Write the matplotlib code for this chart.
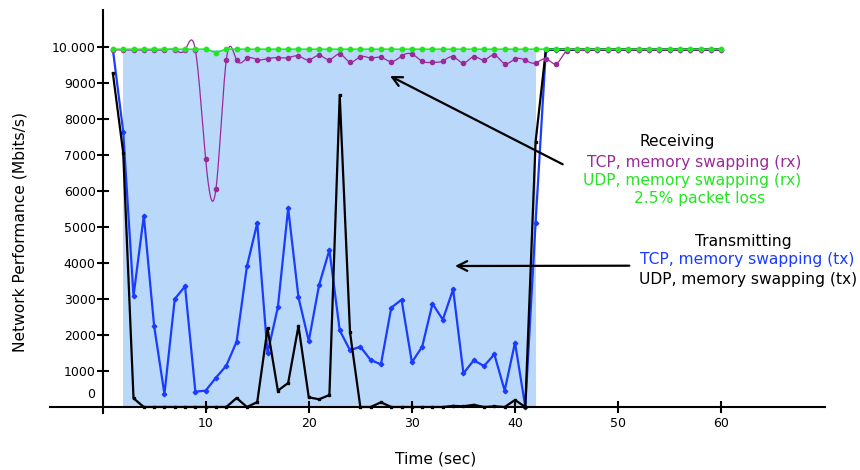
import numpy as np
import matplotlib
matplotlib.use("Agg")
import matplotlib.pyplot as plt

# ---------------- data (Mbits/s vs time in seconds) ----------------
time_s = list(range(1, 61))

tcp_tx = [9930, 7647, 3083, 5314, 2250, 361, 3000, 3352, 426, 454,
          815, 1148, 1815, 3907, 5110, 1491, 2769, 5519, 3046, 1833,
          3389, 4361, 2130, 1575, 1676, 1306, 1185, 2759, 2981, 1241,
          1676, 2870, 2426, 3269, 935, 1296, 1139, 1463, 454, 1787,
          10, 5120, 9930, 9930, 9930, 9930, 9930, 9930, 9930, 9930,
          9930, 9930, 9930, 9930, 9930, 9930, 9930, 9930, 9930, 9930]

udp_tx = [9269, 7064, 241, 0, 0, 0, 0, 0, 0, 0,
          0, 0, 250, 0, 135, 2185, 454, 667, 2250, 269,
          213, 333, 8667, 2074, 0, 0, 130, 0, 0, 0,
          0, 0, 0, 30, 20, 60, 0, 20, 0, 194,
          0, 7370, 9930, 9930, 9930, 9930, 9930, 9930, 9930, 9930,
          9930, 9930, 9930, 9930, 9930, 9930, 9930, 9930, 9930, 9930]

tcp_rx = [9920, 9920, 9920, 9920, 9920, 9920, 9920, 9920, 9920, 6880,
          6065, 9639, 9639, 9686, 9650, 9676, 9704, 9704, 9750, 9639,
          9769, 9648, 9806, 9583, 9731, 9694, 9713, 9593, 9750, 9806,
          9602, 9574, 9611, 9731, 9556, 9731, 9639, 9778, 9537, 9667,
          9630, 9556, 9676, 9537, 9900, 9920, 9920, 9920, 9920, 9920,
          9920, 9920, 9920, 9920, 9920, 9920, 9920, 9920, 9920, 9920]

udp_rx = [9940, 9940, 9940, 9940, 9940, 9940, 9940, 9940, 9940, 9940,
          9845, 9940, 9940, 9940, 9940, 9940, 9940, 9940, 9940, 9940,
          9940, 9940, 9940, 9940, 9940, 9940, 9940, 9940, 9940, 9940,
          9940, 9940, 9940, 9940, 9940, 9940, 9940, 9940, 9940, 9940,
          9940, 9940, 9940, 9940, 9940, 9940, 9940, 9940, 9940, 9940,
          9940, 9940, 9940, 9940, 9940, 9940, 9940, 9940, 9940, 9940]

swap_period = [2, 42]
swap_level = 9920

x_ticks = [10, 20, 30, 40, 50, 60]
y_ticks = [1000, 2000, 3000, 4000, 5000, 6000, 7000, 8000, 9000, 10000]
y_tick_labels = ["1000", "2000", "3000", "4000", "5000", "6000", "7000",
                 "8000", "9000", "10.000"]

# colours
C_BLUE = "#1a3cff"
C_PURPLE = "#9a2a98"
C_GREEN = "#22e622"
C_SPAN = "#b9d8fa"


def natural_cubic(x, y, num=24):
    x = np.asarray(x, float)
    y = np.asarray(y, float)
    n = len(x)
    h = np.diff(x)
    A = np.zeros((n, n))
    r = np.zeros(n)
    A[0, 0] = 1
    A[-1, -1] = 1
    for i in range(1, n - 1):
        A[i, i - 1] = h[i - 1]
        A[i, i] = 2 * (h[i - 1] + h[i])
        A[i, i + 1] = h[i]
        r[i] = 6 * ((y[i + 1] - y[i]) / h[i] - (y[i] - y[i - 1]) / h[i - 1])
    M = np.linalg.solve(A, r)
    xs, ys = [], []
    for i in range(n - 1):
        s = np.linspace(0, h[i], num, endpoint=False)
        a = (h[i] - s) / h[i]
        b = s / h[i]
        yy = a * y[i] + b * y[i + 1] + ((a ** 3 - a) * M[i] + (b ** 3 - b) * M[i + 1]) * h[i] ** 2 / 6
        xs.append(x[i] + s)
        ys.append(yy)
    xs.append([x[-1]])
    ys.append([y[-1]])
    return np.concatenate(xs), np.concatenate(ys)


W, H = 860, 470
fig = plt.figure(figsize=(W / 100, H / 100), dpi=100)
ax = fig.add_axes([50 / W, (H - 413) / H, 775 / W, 403 / H])
ax.set_xlim(-5.1, 70.07)
ax.set_ylim(-167, 11028)

# shaded memory-swapping period
ax.fill_between(swap_period, [0, 0], [swap_level, swap_level], color=C_SPAN,
                linewidth=0, zorder=1)

ax.plot(time_s, tcp_tx, color=C_BLUE, lw=1.6, marker="D", ms=2.3, zorder=3)
ax.plot(time_s, udp_tx, color="black", lw=1.6, marker="s", ms=1.8, zorder=4)

sx, sy = natural_cubic(time_s, tcp_rx)
ax.plot(sx, sy, color=C_PURPLE, lw=0.9, zorder=5)
ax.plot(time_s, tcp_rx, linestyle="none", marker="o", ms=3, color=C_PURPLE, zorder=5)

ax.plot(time_s, udp_rx, color=C_GREEN, lw=1.1, marker="o", ms=3.2, zorder=6)

# axes styling
for side in ["top", "right"]:
    ax.spines[side].set_visible(False)
ax.spines["left"].set_position(("data", 0))
ax.spines["bottom"].set_position(("data", 0))
for side in ["left", "bottom"]:
    ax.spines[side].set_linewidth(1.5)
    ax.spines[side].set_zorder(7)

ax.set_xticks(x_ticks)
ax.set_xticklabels([str(v) for v in x_ticks], fontsize=9)
ax.set_yticks(y_ticks)
ax.set_yticklabels(y_tick_labels, fontsize=9)
ax.tick_params(axis="both", direction="inout", length=8, width=1.5)
ax.tick_params(axis="x", pad=3.5)
ax.tick_params(axis="y", pad=1)
ax.text(-0.75, 353, "0", ha="right", va="center", fontsize=9)

fs = 11.2
fig.text(436 / W, 1 - 459 / H, "Time (sec)", ha="center", va="center", fontsize=fs)
fig.text(20 / W, 1 - 232 / H, "Network Performance (Mbits/s)", ha="center",
         va="center", rotation=90, fontsize=fs)

# annotation blocks
fig.text(677.5 / W, 1 - 141.7 / H, "Receiving", ha="center", va="center", fontsize=fs, color="black")
fig.text(694 / W, 1 - 162.3 / H, "TCP, memory swapping (rx)", ha="center", va="center", fontsize=fs, color=C_PURPLE)
fig.text(692 / W, 1 - 180 / H, "UDP, memory swapping (rx)", ha="center", va="center", fontsize=fs, color=C_GREEN)
fig.text(699.7 / W, 1 - 199 / H, "2.5% packet loss", ha="center", va="center", fontsize=fs, color=C_GREEN)

fig.text(743 / W, 1 - 241.7 / H, "Transmitting", ha="center", va="center", fontsize=fs, color="black")
fig.text(747 / W, 1 - 259.3 / H, "TCP, memory swapping (tx)", ha="center", va="center", fontsize=fs, color=C_BLUE)
fig.text(748 / W, 1 - 279.3 / H, "UDP, memory swapping (tx)", ha="center", va="center", fontsize=fs, color="black")

arrow = dict(arrowstyle="->,head_length=0.7,head_width=0.35", color="black", lw=1.6,
             shrinkA=0, shrinkB=0)
ax.annotate("", xy=(390, H - 76), xytext=(562.7, H - 164.3),
            xycoords="figure pixels", textcoords="figure pixels", arrowprops=arrow)
ax.annotate("", xy=(455, H - 266), xytext=(629.3, H - 265.7),
            xycoords="figure pixels", textcoords="figure pixels", arrowprops=arrow)

fig.savefig("out.png", dpi=100)
